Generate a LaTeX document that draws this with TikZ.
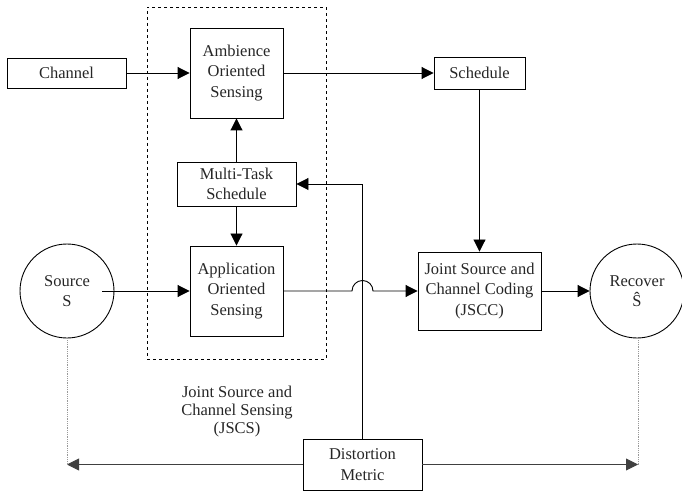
\documentclass[tikz,border=0pt]{standalone}
\usepackage{fontspec}
\setmainfont{Liberation Serif}
\usetikzlibrary{arrows.meta,calc}
\begin{document}
\begin{tikzpicture}[x=1pt,y=-1pt,
  font=\fontsize{16.5}{20.5}\selectfont,
  box/.style={draw, line width=0.9pt, inner sep=0pt, align=center, text=black!85},
  circ/.style={draw, line width=0.9pt, circle, inner sep=0pt, minimum size=94pt, align=center, text=black!85},
  arr/.style={line width=0.9pt, -{Triangle[length=12pt,width=12pt]}},
  dot/.style={line width=0.8pt, densely dotted, black!40}]
\useasboundingbox (0,0) rectangle (682,494);
% group
\node[draw, dashed, line width=0.8pt, minimum width=179pt, minimum height=352pt, inner sep=0pt] (grp) at (236.5,183) {};
\node[align=center, text=black!85, font=\fontsize{16.5}{18}\selectfont] (grplbl) at (237,412) {Joint Source and\\Channel Sensing\\(JSCS)};
% boxes
\node[box, minimum width=119pt, minimum height=30pt] (chan) at (66.5,73) {Channel};
\node[box, minimum width=93pt, minimum height=90pt] (amb) at (236.5,73) {Ambience\\Oriented\\Sensing};
\node[box, minimum width=91pt, minimum height=32pt] (sched) at (479.5,73) {Schedule};
\node[box, minimum width=119pt, minimum height=44pt] (mts) at (236.5,184) {Multi-Task\\Schedule};
\node[box, minimum width=93pt, minimum height=90pt] (app) at (236.5,291) {Application\\Oriented\\Sensing};
\node[box, minimum width=123pt, minimum height=78pt] (jscc) at (479.5,291) {Joint Source and\\Channel Coding\\(JSCC)};
\node[box, minimum width=119pt, minimum height=51pt] (dist) at (362.5,464.5) {Distortion\\Metric};
\node[circ] (src) at (67,291) {Source\\S};
\node[circ] (rec) at (637,291) {Recover\\Ŝ};
% helper coordinates
\coordinate (hop) at (352,0);
\coordinate (dl) at (67,464.5);
\coordinate (dr) at (638,464.5);
% connectors
\draw[arr] (chan.east) -- (amb.west);
\draw[arr] (amb.east) -- (sched.west);
\draw[arr] (sched.south) -- (jscc.north);
\draw[arr] (mts.north) -- (amb.south);
\draw[arr] (mts.south) -- (app.north);
\draw[arr, shorten <=35pt] (src.center) -- (app.west);
\draw[arr] (app.east) -- (app.east -| hop) arc[start angle=180, end angle=360, radius=10.5] -- (jscc.west);
\draw[arr] (jscc.east) -- (rec.west);
\draw[arr] (dist.north) |- (mts.east);
\draw[arr, black!75] (dist.west) -- (dl);
\draw[arr, black!75] (dist.east) -- (dr);
\draw[dot] (src.south) -- (dl);
\draw[dot] (rec.south -| dr) -- (dr);
\end{tikzpicture}
\end{document}
